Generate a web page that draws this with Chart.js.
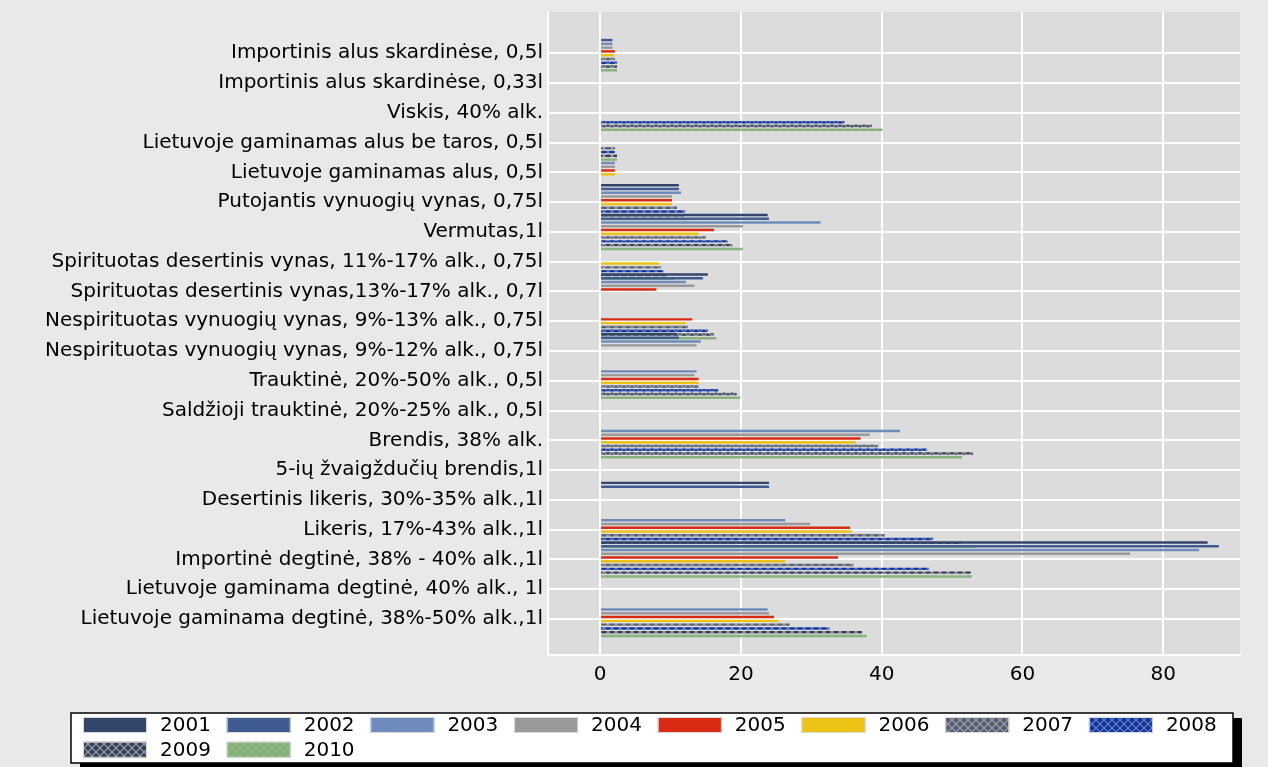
<!DOCTYPE html>
<html><head><meta charset="utf-8">
<script src="https://cdn.jsdelivr.net/npm/chart.js@4.4.0/dist/chart.umd.min.js"></script>
<style>html,body{margin:0;padding:0;background:#e9e9e9;} #wrap{width:1268px;height:767px;}</style>
</head><body><div id="wrap"><canvas id="c" width="1268" height="767"></canvas></div>
<script>
const categories = [
  'Importinis alus skardinėse, 0,5l',
  'Importinis alus skardinėse, 0,33l',
  'Viskis, 40% alk.',
  'Lietuvoje gaminamas alus be taros, 0,5l',
  'Lietuvoje gaminamas alus, 0,5l',
  'Putojantis vynuogių vynas, 0,75l',
  'Vermutas,1l',
  'Spirituotas desertinis vynas, 11%-17% alk., 0,75l',
  'Spirituotas desertinis vynas,13%-17% alk., 0,7l',
  'Nespirituotas vynuogių vynas, 9%-13% alk., 0,75l',
  'Nespirituotas vynuogių vynas, 9%-12% alk., 0,75l',
  'Trauktinė, 20%-50% alk., 0,5l',
  'Saldžioji trauktinė, 20%-25% alk., 0,5l',
  'Brendis, 38% alk.',
  '5-ių žvaigždučių brendis,1l',
  'Desertinis likeris, 30%-35% alk.,1l',
  'Likeris, 17%-43% alk.,1l',
  'Importinė degtinė, 38% - 40% alk.,1l',
  'Lietuvoje gaminama degtinė, 40% alk., 1l',
  'Lietuvoje gaminama degtinė, 38%-50% alk.,1l'
];
const years = ['2001','2002','2003','2004','2005','2006','2007','2008','2009','2010'];
const v2001 = [null,null,null,null,null,11.2,23.8,null,15.3,null,10.9,null,null,null,null,24.0,null,86.3,null,null];
const v2002 = [1.75,null,null,null,null,11.2,24.0,null,14.6,null,11.2,null,null,null,null,24.0,null,87.9,null,null];
const v2003 = [1.75,null,null,null,2.1,11.5,31.3,null,12.2,null,14.3,13.7,null,42.6,null,null,26.3,85.1,null,23.8];
const v2004 = [1.75,null,null,null,2.1,10.2,20.3,null,13.4,null,13.7,13.4,null,38.3,null,null,29.8,75.3,null,24.0];
const v2005 = [2.1,null,null,null,2.1,10.2,16.2,null,8.0,13.1,null,14.0,null,37.0,null,null,35.5,33.8,null,24.7];
const v2006 = [2.0,null,null,null,2.1,10.2,14.0,8.4,null,12.2,null,14.0,null,36.3,null,null,35.7,26.3,null,25.4];
const v2007 = [2.1,null,null,2.1,null,10.9,15.0,8.7,null,12.5,null,14.0,null,39.5,null,null,40.4,36.0,null,26.9];
const v2008 = [2.4,null,34.7,2.1,null,12.1,18.1,9.0,null,15.3,null,16.8,null,46.4,null,null,47.3,46.7,null,32.6];
const v2009 = [2.4,null,38.6,2.4,null,11.9,18.8,9.4,null,16.2,null,19.4,null,53.0,null,null,51.4,52.7,null,37.2];
const v2010 = [2.4,null,40.1,2.4,null,12.7,20.3,10.6,null,16.5,null,19.9,null,51.4,null,null,53.4,52.8,null,37.9];
const seriesValues = [v2001,v2002,v2003,v2004,v2005,v2006,v2007,v2008,v2009,v2010];
const xTicks = [0,20,40,60,80];

function makePattern(base, line) {
  const c = document.createElement('canvas'); c.width = 8; c.height = 8;
  const g = c.getContext('2d');
  g.fillStyle = base; g.fillRect(0,0,8,8);
  g.strokeStyle = line; g.lineWidth = 1.2;
  g.beginPath(); g.moveTo(0,0); g.lineTo(8,8); g.moveTo(8,0); g.lineTo(0,8); g.stroke();
  return g.createPattern(c, 'repeat');
}
const colors = [
  '#34456a', '#3f5b8f', '#6f8bbd', '#999999', '#d92b12', '#ecc214',
  makePattern('#5e5e5e', '#8ea0cc'),
  makePattern('#173290', '#5f86d8'),
  makePattern('#3e3e3e', '#8ea6d6'),
  makePattern('#7fc06f', '#9a9a9a')
];

const FONT = '"DejaVu Sans", Verdana, sans-serif';

const bgPlugin = {
  id: 'bg',
  beforeDraw(chart) {
    const {ctx, chartArea: a} = chart;
    ctx.save();
    ctx.fillStyle = '#e9e9e9';
    ctx.fillRect(0, 0, chart.width, chart.height);
    ctx.fillStyle = '#dcdcdc';
    ctx.fillRect(a.left, a.top, a.right - a.left, a.bottom - a.top);
    ctx.restore();
  }
};

const legendPlugin = {
  id: 'boxLegend',
  afterDraw(chart) {
    const ctx = chart.ctx;
    const bx = 71, by = 713, bw = 1162, bh = 50;
    ctx.save();
    ctx.fillStyle = '#000';
    ctx.fillRect(bx + 9, by + 5, bw, bh + 4);
    ctx.fillStyle = '#fff';
    ctx.fillRect(bx, by, bw, bh);
    ctx.strokeStyle = '#000'; ctx.lineWidth = 1.5;
    ctx.strokeRect(bx, by, bw, bh);
    ctx.font = '20px ' + FONT;
    ctx.textBaseline = 'middle';
    ctx.textAlign = 'left';
    chart.data.datasets.forEach((ds, i) => {
      const col = i % 8, row = Math.floor(i / 8);
      const x = 83 + 143.7 * col, y = 717 + 24.7 * row;
      ctx.fillStyle = ds.backgroundColor;
      ctx.fillRect(x, y, 64, 16);
      ctx.strokeStyle = '#d8d8d8'; ctx.lineWidth = 1;
      ctx.strokeRect(x + 0.5, y + 0.5, 63, 15);
      ctx.fillStyle = '#000';
      ctx.fillText(ds.label, x + 77, y + 9);
    });
    ctx.restore();
  }
};

const datasets = years.map((yr, k) => ({
  label: yr,
  data: seriesValues[k].map((v, i) => ({x: v, y: i})),
  backgroundColor: colors[k],
  borderWidth: 0,
  categoryPercentage: 1.268,
  barPercentage: 0.65
}));

new Chart(document.getElementById('c'), {
  type: 'bar',
  data: { datasets },
  options: {
    indexAxis: 'y',
    responsive: false,
    animation: false,
    events: [],
    layout: { padding: { left: 0, top: 12, right: 28, bottom: 72 } },
    plugins: { legend: { display: false }, tooltip: { enabled: false } },
    scales: {
      x: {
        type: 'linear',
        min: -7.4, max: 90.9,
        offset: false,
        afterBuildTicks: (s) => { s.ticks = xTicks.map(v => ({value: v})); },
        afterFit: (s) => { s.height = 40; },
        grid: { color: '#ffffff', lineWidth: 2, drawTicks: false, offset: false },
        border: { display: true, color: '#ffffff', width: 2 },
        ticks: { padding: 8, color: '#000', font: { family: FONT, size: 20 } }
      },
      y: {
        type: 'linear',
        reverse: true,
        offset: false,
        min: -1.387, max: 20.21,
        afterBuildTicks: (s) => { s.ticks = categories.map((_, i) => ({value: i})); },
        afterFit: (s) => { s.width = 548; s.paddingTop = 0; s.paddingBottom = 0; },
        grid: { color: '#ffffff', lineWidth: 2, drawTicks: false, offset: false },
        border: { display: true, color: '#ffffff', width: 2 },
        ticks: {
          autoSkip: false, padding: 5, color: '#000',
          font: { family: FONT, size: 20 },
          callback: (v) => categories[v]
        }
      }
    }
  },
  plugins: [bgPlugin, legendPlugin]
});
</script></body></html>
